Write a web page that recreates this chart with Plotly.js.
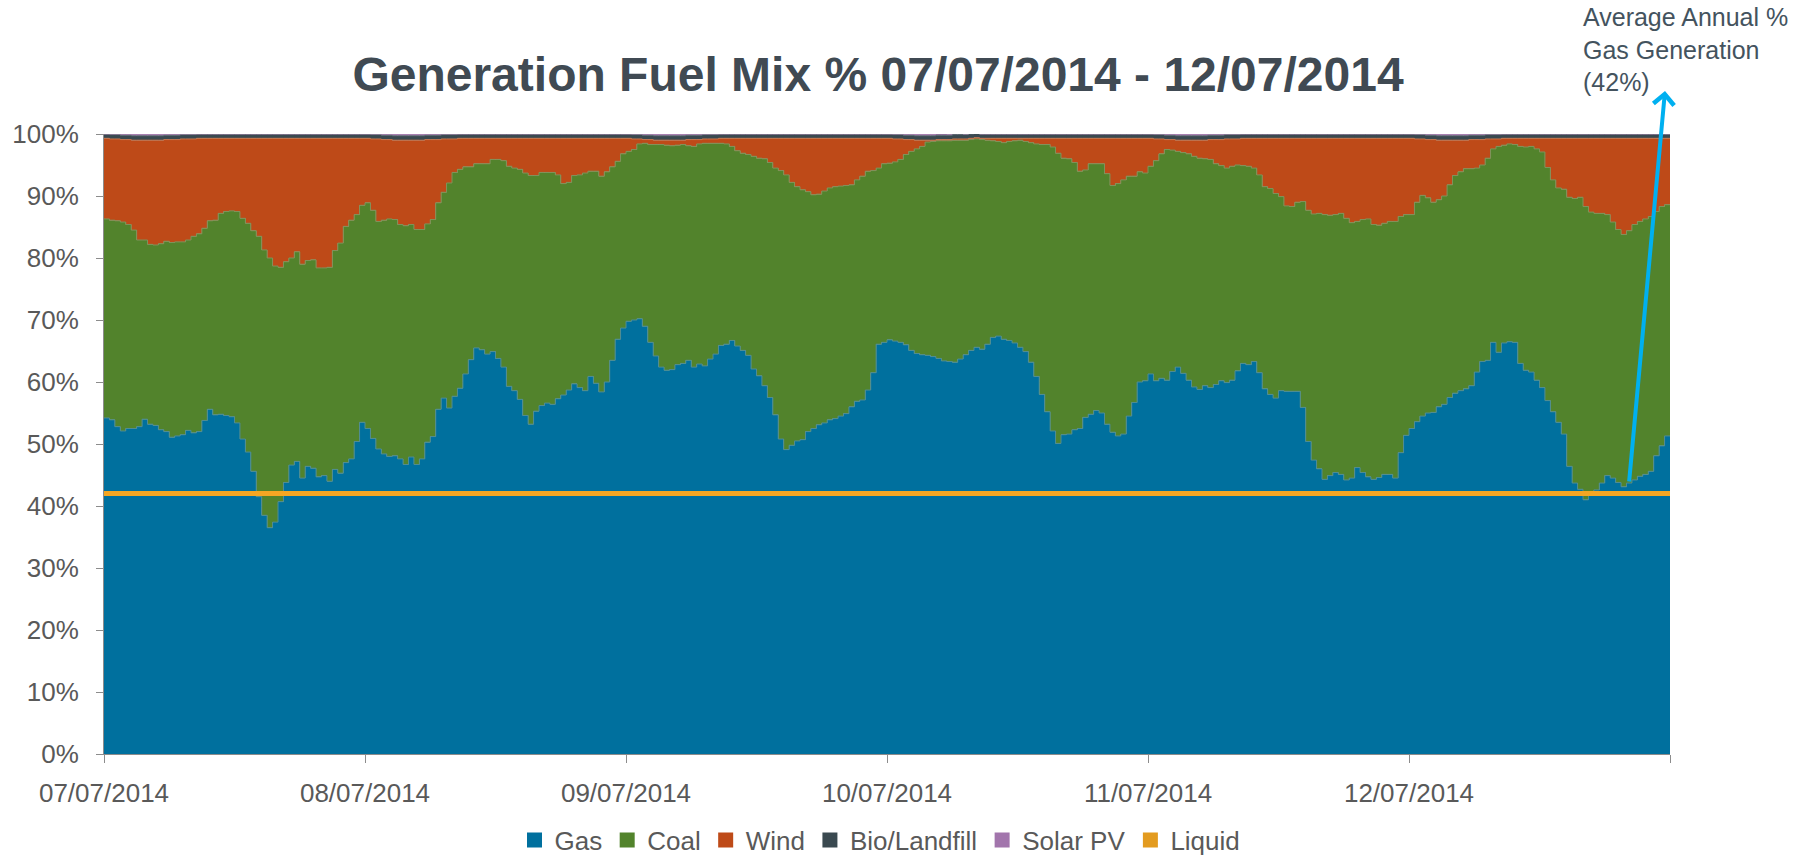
<!DOCTYPE html>
<html><head><meta charset="utf-8">
<script src="https://cdn.plot.ly/plotly-3.0.1.min.js"></script>
<style>html,body{margin:0;padding:0;background:#fff;} #chart{width:1816px;height:856px;}</style>
</head><body><div id="chart"></div>
<script>
// ---------- data (half-hourly shares, %) ----------
const startDate = '2014-07-07 00:00';
const endDate = '2014-07-13 00:00';
const stepMinutes = 30;
const tickDates = ['2014-07-07','2014-07-08','2014-07-09','2014-07-10','2014-07-11','2014-07-12','2014-07-13'];
const tickLabels = ['07/07/2014','08/07/2014','09/07/2014','10/07/2014','11/07/2014','12/07/2014',''];
const seriesNames = ['Gas','Coal','Wind','Bio/Landfill','Solar PV','Liquid'];
const avgAnnualGasPct = 42;

const gas = [
54.2,53.9,52.8,52.1,52.5,52.5,52.8,54.0,53.2,53.0,52.3,52.0,51.1,51.3,51.5,52.2,51.8,52.0,53.8,55.6,54.7,54.8,54.6,54.4,53.4,50.8,48.7,45.6,41.5,38.5,36.5,37.4,40.7,43.8,46.6,47.2,44.5,46.4,46.1,44.7,44.9,44.0,45.9,45.3,47.0,47.6,50.4,53.5,
52.5,50.9,49.2,48.4,48.0,48.1,47.6,46.7,47.9,46.7,47.6,50.3,51.2,55.6,57.4,55.8,57.7,59.0,61.3,63.6,65.5,65.2,64.5,64.9,63.8,62.4,59.3,58.6,57.2,54.6,53.2,55.3,56.2,56.6,56.4,57.3,57.9,58.7,59.7,59.1,58.6,60.9,59.8,58.4,60.0,63.5,66.9,68.7,
69.8,70.0,70.2,69.0,66.4,64.2,62.4,61.9,62.0,62.8,63.0,63.5,62.4,62.9,62.6,63.7,64.5,65.9,66.1,66.7,65.8,65.1,64.3,62.1,61.0,59.4,57.5,54.7,50.8,49.1,49.8,50.5,50.7,52.0,52.5,53.1,53.4,53.9,54.1,54.5,54.9,56.0,56.9,57.1,58.7,61.5,66.1,66.4,
66.8,66.6,66.4,66.0,65.1,64.6,64.4,64.3,64.1,63.8,63.4,63.3,63.2,63.7,64.4,65.1,65.6,65.3,66.1,67.2,67.4,66.9,66.7,66.3,65.6,64.9,63.2,60.9,58.0,55.2,52.1,50.1,51.5,51.6,52.3,52.5,54.3,54.8,55.4,55.0,53.2,51.9,51.3,51.6,54.5,56.7,60.0,60.2,
61.3,60.2,60.6,60.3,61.7,62.4,61.4,60.3,59.2,58.8,59.4,59.1,59.6,60.2,59.9,60.3,61.8,63.0,62.8,63.3,61.5,58.9,58.0,57.4,58.6,58.5,58.5,58.5,55.9,50.4,47.4,46.0,44.3,44.9,45.4,45.1,44.2,44.5,46.2,45.4,44.7,44.3,44.6,45.1,45.1,44.5,48.6,51.4,
52.5,53.6,54.5,55.0,55.1,56.0,56.4,57.5,58.2,58.6,58.9,59.4,61.6,63.3,63.5,66.4,64.8,66.3,66.5,66.4,63.0,61.9,61.6,60.3,59.1,57.0,55.2,53.5,51.6,46.4,43.7,42.7,41.0,41.8,42.6,43.7,44.9,44.5,43.8,43.1,43.7,44.2,44.8,45.1,45.6,48.1,49.7,51.3
];

const coal = [
32.1,32.2,33.2,33.7,32.9,32.0,30.1,28.9,29.0,29.1,30.0,30.7,31.4,31.3,31.1,30.7,31.7,31.9,31.0,30.4,31.4,32.4,32.9,33.2,34.1,35.6,36.9,38.8,42.0,42.8,43.5,41.3,37.8,35.6,33.4,33.8,34.5,33.2,33.6,33.7,33.5,34.5,35.3,37.1,38.1,38.5,36.6,35.0,
36.4,36.8,36.7,37.7,38.3,38.1,37.8,38.5,37.5,37.9,37.0,35.2,35.0,33.3,33.2,36.3,36.1,35.3,33.4,31.1,29.7,30.0,30.7,31.0,32.1,33.3,35.5,35.9,37.1,39.1,40.1,38.0,37.6,37.2,37.4,36.1,34.1,33.5,33.6,34.3,35.1,33.1,34.2,34.8,33.9,31.2,28.7,28.1,
27.4,27.5,28.2,29.5,31.9,34.1,35.9,36.3,36.1,35.4,35.3,34.6,35.6,35.5,35.9,34.8,34.0,32.6,32.3,31.3,31.5,31.8,32.4,34.3,35.1,36.6,37.9,39.8,43.3,44.3,42.4,41.0,40.3,38.7,37.7,37.2,37.4,37.4,37.4,37.1,36.8,35.8,35.7,36.1,35.3,32.6,28.4,28.8,
28.5,28.9,29.5,30.7,32.1,33.0,33.6,34.4,34.7,35.1,35.5,35.6,35.8,35.3,34.6,34.0,33.6,33.8,32.9,31.7,31.4,31.7,32.1,32.6,33.4,33.9,35.4,37.5,40.3,43.1,45.8,46.8,44.6,44.4,43.1,41.5,39.9,40.4,39.8,40.2,40.4,39.8,40.7,41.0,38.7,36.5,33.9,33.5,
33.5,35.5,36.2,37.2,35.7,34.8,35.6,36.5,37.2,37.3,36.6,36.8,35.6,34.7,34.6,34.5,33.2,31.9,32.0,31.2,31.9,32.6,33.2,33.0,31.3,29.9,29.8,30.5,33.2,37.3,39.7,41.2,42.7,42.0,41.6,42.1,42.2,41.2,39.7,40.8,41.6,41.1,40.7,40.5,40.8,41.4,38.1,35.6,
34.5,35.4,35.6,34.7,33.9,33.4,33.6,34.3,35.1,35.3,35.5,35.0,32.9,31.7,32.6,31.2,33.2,31.9,31.9,31.9,35.0,36.0,36.4,37.3,38.0,37.6,37.4,37.8,39.5,43.4,45.9,47.1,47.3,45.6,44.6,43.5,42.1,41.3,40.8,40.7,40.7,41.2,41.1,41.2,41.1,39.4,38.6,37.3
];

const wind = [
13.0,13.1,13.2,13.3,13.7,14.5,16.1,16.1,16.8,16.9,16.7,16.4,16.6,16.5,16.6,16.3,15.7,15.4,14.5,13.3,13.2,12.1,11.8,11.7,11.8,12.9,13.7,14.9,15.8,18.0,19.3,20.6,20.8,19.9,19.3,18.3,20.3,19.7,19.6,20.9,20.9,20.8,18.1,16.9,14.2,13.2,12.3,10.8,
10.4,11.5,13.3,13.0,12.8,12.8,13.6,13.8,13.6,14.4,14.4,13.6,12.9,10.2,8.6,7.1,5.4,5.0,4.6,4.6,4.1,4.1,4.1,3.4,3.4,3.6,4.5,4.8,5.0,5.6,6.0,6.0,5.5,5.5,5.5,5.9,7.3,7.1,6.0,5.9,5.6,5.3,5.3,6.1,5.4,4.6,3.7,2.5,
2.1,1.7,0.8,0.6,0.8,0.7,0.7,0.8,0.9,0.8,0.7,1.0,1.1,0.7,0.7,0.7,0.7,0.8,0.9,1.3,2.0,2.4,2.6,2.9,3.2,3.3,3.9,4.8,5.2,5.9,7.1,7.8,8.3,8.6,9.1,9.0,8.5,8.0,7.8,7.7,7.6,7.5,6.7,6.1,5.3,5.2,4.8,4.1,
4.0,3.7,3.3,2.4,1.9,1.4,1.0,0.3,0.2,0.2,0.2,0.2,0.2,0.2,0.2,0.2,0.2,0.2,0.3,0.4,0.5,0.7,0.5,0.4,0.3,0.5,0.7,0.9,1.0,1.0,1.4,2.4,3.2,3.3,3.9,5.3,5.1,4.1,4.1,4.1,5.7,7.6,7.3,6.7,6.1,6.1,5.4,5.6,
4.5,3.5,2.4,1.6,1.7,1.8,2.0,2.2,2.6,2.9,3.0,3.2,3.9,4.2,4.7,4.4,4.2,4.4,4.5,4.8,5.9,7.8,8.1,8.9,9.4,10.9,11.0,10.3,10.2,11.6,12.2,12.1,12.3,12.4,12.3,12.1,12.9,13.6,13.4,13.1,13.0,13.9,14.0,13.7,13.4,13.4,12.6,12.3,
12.3,10.2,9.1,9.4,10.1,9.6,9.0,7.2,5.7,5.1,4.6,4.7,4.6,4.1,3.1,1.6,1.2,1.1,0.9,1.0,1.3,1.4,1.3,1.7,2.2,4.7,6.7,8.0,8.2,9.5,9.7,9.5,11.0,11.9,12.1,12.1,12.3,13.5,14.7,15.5,14.9,13.9,13.4,13.0,12.6,11.8,11.0,10.7
];

const bio = [
0.7,0.7,0.7,0.7,0.7,0.7,0.7,0.7,0.7,0.7,0.7,0.7,0.7,0.7,0.7,0.7,0.7,0.7,0.7,0.7,0.7,0.7,0.7,0.7,0.7,0.7,0.7,0.7,0.7,0.7,0.7,0.7,0.7,0.7,0.7,0.7,0.7,0.7,0.7,0.7,0.7,0.7,0.7,0.7,0.7,0.7,0.7,0.7,
0.7,0.7,0.7,0.7,0.7,0.7,0.7,0.7,0.7,0.7,0.7,0.7,0.7,0.7,0.7,0.7,0.7,0.7,0.7,0.7,0.7,0.7,0.7,0.7,0.7,0.7,0.7,0.7,0.7,0.7,0.7,0.7,0.7,0.7,0.7,0.7,0.7,0.7,0.7,0.7,0.7,0.7,0.7,0.7,0.7,0.7,0.7,0.7,
0.7,0.7,0.7,0.7,0.7,0.7,0.7,0.7,0.7,0.7,0.7,0.7,0.7,0.7,0.7,0.7,0.7,0.7,0.7,0.7,0.7,0.7,0.7,0.7,0.7,0.7,0.7,0.7,0.7,0.7,0.7,0.7,0.7,0.7,0.7,0.7,0.7,0.7,0.7,0.7,0.7,0.7,0.7,0.7,0.7,0.7,0.7,0.7,
0.7,0.7,0.7,0.7,0.7,0.7,0.7,0.7,0.7,0.7,0.7,0.7,0.7,0.7,0.7,0.7,0.7,0.7,0.7,0.7,0.7,0.7,0.7,0.7,0.7,0.7,0.7,0.7,0.7,0.7,0.7,0.7,0.7,0.7,0.7,0.7,0.7,0.7,0.7,0.7,0.7,0.7,0.7,0.7,0.7,0.7,0.7,0.7,
0.7,0.7,0.7,0.7,0.7,0.7,0.7,0.7,0.7,0.7,0.7,0.7,0.7,0.7,0.7,0.7,0.7,0.7,0.7,0.7,0.7,0.7,0.7,0.7,0.7,0.7,0.7,0.7,0.7,0.7,0.7,0.7,0.7,0.7,0.7,0.7,0.7,0.7,0.7,0.7,0.7,0.7,0.7,0.7,0.7,0.7,0.7,0.7,
0.7,0.7,0.7,0.7,0.7,0.7,0.7,0.7,0.7,0.7,0.7,0.7,0.7,0.7,0.7,0.7,0.7,0.7,0.7,0.7,0.7,0.7,0.7,0.7,0.7,0.7,0.7,0.7,0.7,0.7,0.7,0.7,0.7,0.7,0.7,0.7,0.7,0.7,0.7,0.7,0.7,0.7,0.7,0.7,0.7,0.7,0.7,0.7
];

const solar = [
0,0.1,0.1,0.2,0.2,0.3,0.3,0.3,0.3,0.3,0.3,0.2,0.2,0.2,0.1,0.1,0.1,0,0,0,0,0,0,0,0,0,0,0,0,0,0,0,0,0,0,0,0,0,0,0,0,0,0,0,0,0,0,0,
0,0.1,0.1,0.2,0.2,0.3,0.3,0.3,0.3,0.3,0.3,0.2,0.2,0.2,0.1,0.1,0.1,0,0,0,0,0,0,0,0,0,0,0,0,0,0,0,0,0,0,0,0,0,0,0,0,0,0,0,0,0,0,0,
0,0.1,0.1,0.2,0.2,0.3,0.3,0.3,0.3,0.3,0.3,0.2,0.2,0.2,0.1,0.1,0.1,0,0,0,0,0,0,0,0,0,0,0,0,0,0,0,0,0,0,0,0,0,0,0,0,0,0,0,0,0,0,0,
0,0.1,0.1,0.2,0.2,0.3,0.3,0.3,0.3,0.3,0.3,0.2,0.2,0.2,0.1,0.1,0.1,0,0,0,0,0,0,0,0,0,0,0,0,0,0,0,0,0,0,0,0,0,0,0,0,0,0,0,0,0,0,0,
0,0.1,0.1,0.2,0.2,0.3,0.3,0.3,0.3,0.3,0.3,0.2,0.2,0.2,0.1,0.1,0.1,0,0,0,0,0,0,0,0,0,0,0,0,0,0,0,0,0,0,0,0,0,0,0,0,0,0,0,0,0,0,0,
0,0.1,0.1,0.2,0.2,0.3,0.3,0.3,0.3,0.3,0.3,0.2,0.2,0.2,0.1,0.1,0.1,0,0,0,0,0,0,0,0,0,0,0,0,0,0,0,0,0,0,0,0,0,0,0,0,0,0,0,0,0,0,0
];

// ---------- styling ----------
const fillColors = ['#00709E','#52832C','#BE4A18','#3A4950','#A275AC','#E39B1F'];
const edgeColors = ['#4F8C93','#7E925A','#C7764E','#55636A','#B08DB6','#E39B1F'];
const fontFam = 'Liberation Sans, Arial, sans-serif';

function stamp(i){
  const d = new Date(Date.UTC(2014,6,7) + i*stepMinutes*60000);
  const p = n => String(n).padStart(2,'0');
  return d.getUTCFullYear()+'-'+p(d.getUTCMonth()+1)+'-'+p(d.getUTCDate())+' '+p(d.getUTCHours())+':'+p(d.getUTCMinutes());
}
const times = gas.map((_,i)=>stamp(i)).concat([stamp(gas.length)]);
const closeStep = a => a.concat([a[a.length-1]]);

const stacked = [gas, coal, wind, bio, solar];
const traces = stacked.map((vals,k)=>({
  x: times, y: closeStep(vals), type:'scatter', mode:'lines', stackgroup:'mix',
  line:{shape:'hv', width:1, color:edgeColors[k]}, fillcolor:fillColors[k],
  name: seriesNames[k], showlegend:false, hoverinfo:'skip'
}));
// average annual gas line
traces.push({x:[startDate,endDate], y:[avgAnnualGasPct,avgAnnualGasPct], type:'scatter', mode:'lines',
  line:{color:'#F5A623', width:5}, showlegend:false, hoverinfo:'skip'});
// legend entries
seriesNames.forEach((nm,k)=>traces.push({x:[null], y:[null], type:'scatter', mode:'markers', name:nm,
  marker:{symbol:'square', size:15, color:fillColors[k]}, showlegend:true}));

const L = 104, R = 1670, T = 134, B = 754;
const layout = {
  width:1816, height:856,
  margin:{l:L, r:1816-R, t:T, b:856-B, pad:0, autoexpand:false},
  paper_bgcolor:'#fff', plot_bgcolor:'#fff',
  font:{family:fontFam, color:'#595959', size:26},
  title:{text:'<b>Generation Fuel Mix % 07/07/2014 - 12/07/2014</b>', font:{family:fontFam, size:48, color:'#404A53'},
    xref:'paper', x:(878-L)/(R-L), xanchor:'center', yref:'container', y:1-74/856, yanchor:'middle'},
  xaxis:{type:'date', range:[startDate,endDate], tickvals:tickDates, ticktext:tickLabels,
    ticks:'outside', ticklen:8, tickcolor:'#8C8C8C', tickwidth:1, showline:true, linecolor:'#8C8C8C', linewidth:1,
    showgrid:false, zeroline:false, tickfont:{size:26, color:'#595959'}, ticklabelstandoff:8, fixedrange:true},
  yaxis:{range:[0,100], tick0:0, dtick:10, ticksuffix:'%', ticks:'outside', ticklen:7, tickcolor:'#8C8C8C',
    showline:true, linecolor:'#8C8C8C', linewidth:1, showgrid:true, gridcolor:'#D9D9D9', zeroline:false,
    tickfont:{size:26, color:'#595959'}, ticklabelstandoff:12, fixedrange:true},
  legend:{orientation:'h', xref:'container', x:880/1816, xanchor:'center', yref:'container', y:1-840/856, yanchor:'middle',
    font:{size:26, color:'#595959'}, itemwidth:30, traceorder:'normal'},
  annotations:[
    {xref:'paper', yref:'paper', x:(1581-L)/(R-L), y:(B-1)/(B-T), xanchor:'left', yanchor:'top', align:'left',
     text:'Average Annual %<br>Gas Generation<br>(42%)', showarrow:false, font:{size:25, color:'#44535E', family:fontFam}},
    {xref:'paper', yref:'paper', x:(1665-L)/(R-L), y:(B-91)/(B-T), text:'', showarrow:true,
     ax:1629-1665, ay:483-91, arrowcolor:'#00B0F0', arrowwidth:4, arrowhead:4, arrowsize:1, standoff:0, startstandoff:0}
  ],
  showlegend:true
};
Plotly.newPlot('chart', traces, layout, {staticPlot:true, displayModeBar:false});
</script></body></html>
